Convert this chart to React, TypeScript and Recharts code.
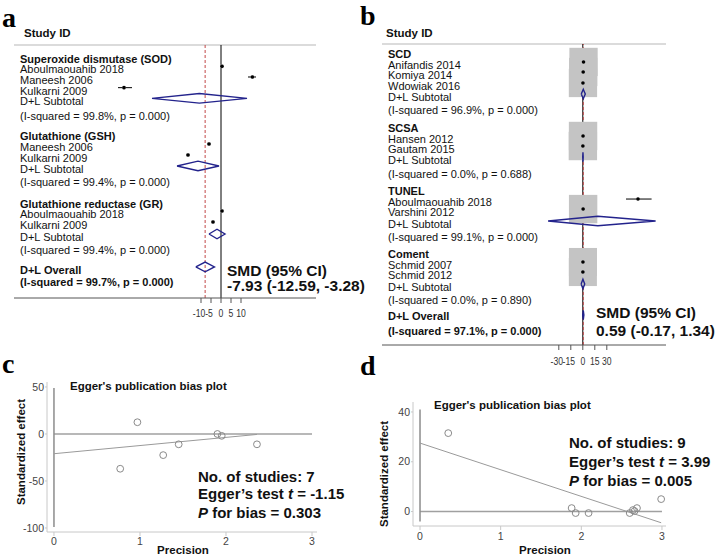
import React from 'react';
import { ScatterChart, Scatter, XAxis, YAxis, ReferenceLine, ErrorBar } from 'recharts';

const SANS = '"Liberation Sans", Arial, sans-serif';
const SERIF = '"Liberation Serif", "Times New Roman", serif';
const NAVY = '#23238c';

type Label = { row: number; text: string; bold?: boolean };
type Est = { row: number; est: number; lo: number; hi: number; w?: number };
type Pt = { x: number; y: number };

// a: antioxidant markers, SMD
const aLabels: Label[] = [
  { row: 1, text: 'Superoxide dismutase (SOD)', bold: true },
  { row: 2, text: 'Aboulmaouahib 2018' },
  { row: 3, text: 'Maneesh 2006' },
  { row: 4, text: 'Kulkarni 2009' },
  { row: 5, text: 'D+L Subtotal' },
  { row: 6.35, text: '(I-squared = 99.8%, p = 0.000)' },
  { row: 8.25, text: 'Glutathione (GSH)', bold: true },
  { row: 9.28, text: 'Maneesh 2006' },
  { row: 10.31, text: 'Kulkarni 2009' },
  { row: 11.34, text: 'D+L Subtotal' },
  { row: 12.56, text: '(I-squared = 99.4%, p = 0.000)' },
  { row: 14.62, text: 'Glutathione reductase (GR)', bold: true },
  { row: 15.56, text: 'Aboulmaouahib 2018' },
  { row: 16.59, text: 'Kulkarni 2009' },
  { row: 17.72, text: 'D+L Subtotal' },
  { row: 18.94, text: '(I-squared = 99.4%, p = 0.000)' },
  { row: 20.81, text: 'D+L Overall', bold: true },
  { row: 21.94, text: '(I-squared = 99.7%, p = 0.000)', bold: true },
];
const aStudies: Est[] = [
  { row: 2, est: 0.5, lo: 0, hi: 1, w: 14.5 },
  { row: 3, est: 15.7, lo: 13.5, hi: 17.5, w: 14.3 },
  { row: 4, est: -48.5, lo: -51.5, hi: -44.5, w: 14.2 },
  { row: 9.28, est: -6, lo: -6.8, hi: -5.2, w: 14.3 },
  { row: 10.31, est: -16.5, lo: -17.3, hi: -15.7, w: 14.3 },
  { row: 15.56, est: 0.5, lo: 0, hi: 1, w: 14.3 },
  { row: 16.59, est: -4, lo: -4.7, hi: -3.3, w: 14.1 },
];
const aPooled: Est[] = [
  { row: 5, est: -10.8, lo: -34.5, hi: 13 },
  { row: 11.34, est: -11.5, lo: -22, hi: -1 },
  { row: 17.72, est: -2, lo: -6, hi: 2 },
  { row: 20.81, est: -7.93, lo: -12.59, hi: -3.28 },
];
const aOverall = -7.93;
const aTicks = [-10, -5, 0, 5, 10];

// b: sperm DNA fragmentation assays, SMD
const bLabels: Label[] = [
  { row: 0.66, text: 'SCD', bold: true },
  { row: 1.7, text: 'Anifandis 2014' },
  { row: 2.65, text: 'Komiya 2014' },
  { row: 3.69, text: 'Wdowiak 2016' },
  { row: 4.73, text: 'D+L Subtotal' },
  { row: 5.97, text: '(I-squared = 96.9%, p = 0.000)' },
  { row: 7.67, text: 'SCSA', bold: true },
  { row: 8.71, text: 'Hansen 2012' },
  { row: 9.66, text: 'Gautam 2015' },
  { row: 10.7, text: 'D+L Subtotal' },
  { row: 12.03, text: '(I-squared = 0.0%, p = 0.688)' },
  { row: 13.64, text: 'TUNEL', bold: true },
  { row: 14.68, text: 'Aboulmaouahib 2018' },
  { row: 15.63, text: 'Varshini 2012' },
  { row: 16.76, text: 'D+L Subtotal' },
  { row: 17.99, text: '(I-squared = 99.1%, p = 0.000)' },
  { row: 19.6, text: 'Coment', bold: true },
  { row: 20.64, text: 'Schmid 2007' },
  { row: 21.59, text: 'Schmid 2012' },
  { row: 22.73, text: 'D+L Subtotal' },
  { row: 23.96, text: '(I-squared = 0.0%, p = 0.890)' },
  { row: 25.5, text: 'D+L Overall', bold: true },
  { row: 26.89, text: '(I-squared = 97.1%, p = 0.000)', bold: true },
];
const bStudies: Est[] = [
  { row: 1.7, est: 0.9, lo: 0.4, hi: 1.4, w: 12.5 },
  { row: 2.65, est: 0.5, lo: 0.1, hi: 0.9, w: 12.5 },
  { row: 3.69, est: 0.2, lo: -0.2, hi: 0.6, w: 12.5 },
  { row: 8.71, est: 0.3, lo: -0.1, hi: 0.7, w: 12.6 },
  { row: 9.66, est: 0.1, lo: -0.3, hi: 0.5, w: 12.6 },
  { row: 14.68, est: 69, lo: 54, hi: 86, w: 0.1 },
  { row: 15.63, est: 0.4, lo: 0, hi: 0.8, w: 12.6 },
  { row: 20.64, est: 0.2, lo: -0.2, hi: 0.6, w: 12.3 },
  { row: 21.59, est: 0.1, lo: -0.3, hi: 0.5, w: 12.3 },
];
const bPooled: Est[] = [
  { row: 4.73, est: 0.6, lo: -1.9, hi: 3.1 },
  { row: 10.7, est: 0.2, lo: -0.1, hi: 0.5 },
  { row: 16.76, est: 18.8, lo: -43.4, hi: 91 },
  { row: 22.73, est: 0.15, lo: -2.1, hi: 2.4 },
  { row: 25.66, est: 0.59, lo: -0.17, hi: 1.34 },
];
const bOverall = 0.59;
const bTicks = [-30, -15, 0, 15, 30];

// c, d: Egger's plots (precision vs standardized effect)
const precTicks = [0, 1, 2, 3];
const cPoints: Pt[] = [
  { x: 0.77, y: -37 }, { x: 0.97, y: 12.5 }, { x: 1.27, y: -22.5 }, { x: 1.45, y: -11 },
  { x: 1.9, y: 0 }, { x: 1.95, y: -2 }, { x: 2.36, y: -11 },
];
const cFit: Pt[] = [{ x: 0, y: -21 }, { x: 2.36, y: -0.5 }];
const cYTicks = [-100, -50, 0, 50];
const dPoints: Pt[] = [
  { x: 0.35, y: 31.5 }, { x: 1.88, y: 1.4 }, { x: 1.93, y: -0.6 }, { x: 2.09, y: -0.6 },
  { x: 2.6, y: -0.6 }, { x: 2.64, y: 0.6 }, { x: 2.66, y: 0.2 }, { x: 2.69, y: 1.4 }, { x: 2.99, y: 5 },
];
const dFit: Pt[] = [{ x: 0, y: 27.5 }, { x: 2.99, y: -4.5 }];
const dYTicks = [0, 20, 40];

const empty = () => <g />;

const rowTick = (labels: Label[], lx: number, size: number) => (props: any) => {
  const l = labels.find((d) => d.row === props.payload.value);
  if (!l) return <g />;
  return (
    <text x={lx} y={props.y + 3} dominantBaseline="central" fontSize={size} fontFamily={SANS}
      fontWeight={l.bold ? 700 : 400} fill="#111">{l.text}</text>
  );
};

// Stata packs the effect-axis labels tightly; draw them slightly condensed
const effTick = (props: any) => {
  const v = props.payload.value;
  const x = props.x - (v < 0 ? 2 : 0);
  return (
    <text transform={`translate(${x},${props.y}) scale(0.75,1)`} textAnchor="middle" dy="0.71em"
      fontSize={11.5} fontFamily={SANS} fill="#333">{v}</text>
  );
};

const diamond = (p: Est, h: number): Pt[] => [
  { x: p.lo, y: p.row }, { x: p.est, y: p.row - h }, { x: p.hi, y: p.row },
  { x: p.est, y: p.row + h }, { x: p.lo, y: p.row },
];

function Forest(props: any) {
  const { labels, studies, pooled, overall, ticks, xDomain, yDomain, width, height, margin, labelX, fontSize, boxK, tickMargin } = props;
  const pts = studies.map((s: Est) => ({ x: s.est, y: s.row, err: [s.est - s.lo, s.hi - s.est], w: s.w ?? 0 }));
  return (
    <ScatterChart width={width} height={height} margin={margin}>
      <XAxis type="number" dataKey="x" domain={xDomain} ticks={ticks} interval={0} allowDataOverflow
        stroke="#555" tickSize={5} tickMargin={tickMargin} tick={effTick} />
      <YAxis type="number" dataKey="y" domain={yDomain} reversed allowDataOverflow width={1}
        ticks={labels.map((l: Label) => l.row)} interval={0} axisLine={false} tickLine={false}
        tick={rowTick(labels, labelX, fontSize)} />
      <Scatter data={pts} isAnimationActive={false}
        shape={(p: any) => {
          const s = boxK * Math.sqrt(p.payload.w);
          return <rect x={p.cx - s / 2} y={p.cy - s / 2} width={s} height={s} fill="#c4c4c4" />;
        }} />
      <ReferenceLine y={yDomain[0]} stroke="#cfcfcf" strokeWidth={1.5} />
      <ReferenceLine x={0} stroke="#000" strokeWidth={1} />
      <ReferenceLine x={overall} stroke="#c24848" strokeDasharray="3 2" strokeWidth={1} />
      <Scatter data={pts} isAnimationActive={false}
        shape={(p: any) => <circle cx={p.cx} cy={p.cy} r={1.8} fill="#000" />}>
        <ErrorBar dataKey="err" direction="x" width={0} stroke="#000" strokeWidth={1} isAnimationActive={false} />
      </Scatter>
      {pooled.map((p: Est, i: number) => (
        <Scatter key={i} data={diamond(p, 0.45)} line={{ stroke: NAVY, strokeWidth: 1.4 }} lineType="joint"
          shape={empty} isAnimationActive={false} />
      ))}
    </ScatterChart>
  );
}

function Egger(props: any) {
  const { points, fit, yDomain, yTicks, xDomain, vSeg, width, height, margin, tickMargin } = props;
  return (
    <ScatterChart width={width} height={height} margin={margin}>
      <XAxis type="number" dataKey="x" domain={xDomain} ticks={precTicks} interval={0} allowDataOverflow height={20}
        stroke="#c8c8c8" tickSize={4} tickMargin={tickMargin} tick={{ fontSize: 10.5, fill: '#444', fontFamily: SANS }} />
      <YAxis type="number" dataKey="y" domain={yDomain} ticks={yTicks} interval={0} allowDataOverflow width={40}
        stroke="#c8c8c8" tickSize={2} tickMargin={1} tick={{ fontSize: 10.5, fill: '#444', fontFamily: SANS }} />
      <ReferenceLine segment={[{ x: 0, y: 0 }, { x: 3, y: 0 }]} stroke="#a0a0a0" strokeWidth={1.5} />
      <ReferenceLine segment={vSeg} stroke="#8c8c8c" strokeWidth={1.5} />
      <Scatter data={fit} line={{ stroke: '#9a9a9a', strokeWidth: 1 }} lineType="joint" shape={empty} isAnimationActive={false} />
      <Scatter data={points} isAnimationActive={false}
        shape={(p: any) => <circle cx={p.cx} cy={p.cy} r={3.4} fill="none" stroke="#8a8a8a" strokeWidth={1} />} />
    </ScatterChart>
  );
}

const abs = (left: number, top: number): React.CSSProperties => ({ position: 'absolute', left, top });

export default function App() {
  const txt = { fontFamily: SANS, fill: '#111' };
  return (
    <div style={{ position: 'relative', width: 719, height: 557, background: '#fff', overflow: 'hidden' }}>
      <style>{'body{margin:0}'}</style>
      <div style={abs(0, 0)}>
        <Forest labels={aLabels} studies={aStudies} pooled={aPooled} overall={aOverall} ticks={aTicks}
          xDomain={[-103.5, 47.5]} yDomain={[0, 23.72]} width={330} height={340}
          margin={{ top: 45, right: 14, bottom: 12, left: 13 }} labelX={20} fontSize={11} boxK={0.9} tickMargin={6} />
      </div>
      <div style={abs(360, 0)}>
        <Forest labels={bLabels} studies={bStudies} pooled={bPooled} overall={bOverall} ticks={bTicks}
          xDomain={[-251, 104]} yDomain={[0, 28.5]} width={320} height={390}
          margin={{ top: 44, right: 14, bottom: 15, left: 21 }} labelX={28} fontSize={11} boxK={8} tickMargin={7} />
      </div>
      <div style={abs(0, 370)}>
        <Egger points={cPoints} fit={cFit} yDomain={[-104.3, 55.3]} yTicks={cYTicks} xDomain={[-0.081, 3.058]}
          vSeg={[{ x: 0, y: -99 }, { x: 0, y: 49 }]} width={330} height={185}
          margin={{ top: 12, right: 13, bottom: 3, left: 7 }} tickMargin={2} />
      </div>
      <div style={abs(360, 390)}>
        <Egger points={dPoints} fit={dFit} yDomain={[-5.8, 44]} yTicks={dYTicks} xDomain={[-0.087, 3.05]}
          vSeg={[{ x: 0, y: -4 }, { x: 0, y: 41 }]} width={320} height={167}
          margin={{ top: 12, right: 14, bottom: 11, left: 13 }} tickMargin={3} />
      </div>
      <svg width={719} height={557} style={{ ...abs(0, 0), pointerEvents: 'none' }}>
        <g fontFamily={SERIF} fontWeight={700} fontSize={28} fill="#000">
          <text x={2} y={27}>a</text>
          <text x={360} y={25}>b</text>
          <text x={2} y={373}>c</text>
          <text x={360} y={375}>d</text>
        </g>
        <g {...txt} fontWeight={700} fontSize={11.5}>
          <text x={24} y={37}>Study ID</text>
          <text x={386} y={37}>Study ID</text>
          <text x={70} y={390}>Egger's publication bias plot</text>
          <text x={434} y={409}>Egger's publication bias plot</text>
          <text x={183} y={554} textAnchor="middle">Precision</text>
          <text x={545} y={554} textAnchor="middle">Precision</text>
          <text transform="translate(21,452) rotate(-90)" textAnchor="middle" dominantBaseline="central">Standardized effect</text>
          <text transform="translate(384,474) rotate(-90)" textAnchor="middle" dominantBaseline="central">Standardized effect</text>
        </g>
        <g {...txt} fontWeight={700} fontSize={15.5}>
          <text x={227} y={275.5}>SMD (95% CI)</text>
          <text x={227} y={290.5}>-7.93 (-12.59, -3.28)</text>
          <text x={596} y={317.5}>SMD (95% CI)</text>
          <text x={596} y={335.5}>0.59 (-0.17, 1.34)</text>
        </g>
        <g {...txt} fontWeight={700} fontSize={15}>
          <text x={198} y={481.5}>No. of studies: 7</text>
          <text x={198} y={499}>Egger’s test <tspan fontStyle="italic">t</tspan> = -1.15</text>
          <text x={198} y={517.5}><tspan fontStyle="italic">P</tspan> for bias = 0.303</text>
          <text x={569} y={447.5}>No. of studies: 9</text>
          <text x={569} y={466.5}>Egger’s test <tspan fontStyle="italic">t</tspan> = 3.99</text>
          <text x={569} y={485.5}><tspan fontStyle="italic">P</tspan> for bias = 0.005</text>
        </g>
      </svg>
    </div>
  );
}
